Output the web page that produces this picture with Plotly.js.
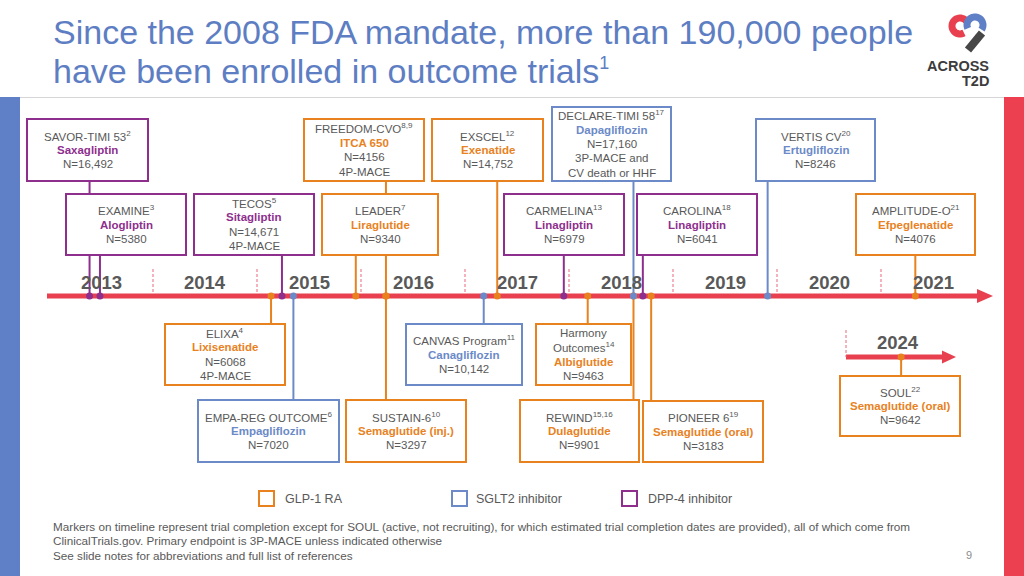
<!DOCTYPE html>
<html><head><meta charset="utf-8">
<script src="https://cdn.plot.ly/plotly-3.0.1.min.js"></script>
<style>html,body{margin:0;padding:0;background:#fff}#chart{width:1024px;height:576px}</style>
</head><body><div id="chart"></div>
<script>
// ================= DATA =================
const trialNames = ['SAVOR-TIMI 53','EXAMINE','ELIXA','TECOS','EMPA-REG OUTCOME','LEADER','FREEDOM-CVO','SUSTAIN-6','CANVAS Program','EXSCEL','CARMELINA','Harmony Outcomes','REWIND','DECLARE-TIMI 58','CAROLINA','PIONEER 6','VERTIS CV','AMPLITUDE-O','SOUL'];
const trialRefs = ['2','3','4','5','6','7','8,9','10','11','12','13','14','15,16','17','18','19','20','21','22'];
const trialDrugs = ['Saxagliptin','Alogliptin','Lixisenatide','Sitagliptin','Empagliflozin','Liraglutide','ITCA 650','Semaglutide (inj.)','Canagliflozin','Exenatide','Linagliptin','Albiglutide','Dulaglutide','Dapagliflozin','Linagliptin','Semaglutide (oral)','Ertugliflozin','Efpeglenatide','Semaglutide (oral)'];
const trialClasses = ['DPP-4','DPP-4','GLP-1','DPP-4','SGLT2','GLP-1','GLP-1','GLP-1','SGLT2','GLP-1','DPP-4','GLP-1','GLP-1','SGLT2','DPP-4','GLP-1','SGLT2','GLP-1','GLP-1'];
const trialN = [16492,5380,6068,14671,7020,9340,4156,3297,10142,14752,6979,9463,9901,17160,6041,3183,8246,4076,9642];
const trialEndpoints = ['','','4P-MACE','4P-MACE','','','4P-MACE','','','','','','','3P-MACE and CV death or HHF','','','','',''];
const completionYear = [2013.39,2013.49,2015.135,2015.24,2015.35,2015.95,2016.24,2016.24,2017.18,2017.31,2017.95,2018.18,2018.62,2018.62,2018.71,2018.79,2019.91,2021.33,2024.53];
const yearLabels = [2013,2014,2015,2016,2017,2018,2019,2020,2021];
const insetYears = [2024];
const classKeys = ['GLP-1','SGLT2','DPP-4'];
const classLabels = ['GLP-1 RA','SGLT2 inhibitor','DPP-4 inhibitor'];

// ================= STYLE / LAYOUT =================
const FONT = 'Liberation Sans, Arial, Helvetica, sans-serif';
const GREY = '#595959';
const classColor = {'GLP-1':'#E8821E','SGLT2':'#6C8AC8','DPP-4':'#8E2F8E'};
const RED = '#E8404F';
const AXIS_Y = 296, INSET_Y = 357;
const LINE_H = 14.4;
// box geometry in page pixels [x0, x1, y0, y1]
const boxGeom = [
  [27,148,119,181],[66,186,194,255],[165,285,324,385],[194,314,194,255],[198,339,400,462],
  [322,438,194,255],[304,424,119,181],[346,466,400,462],[406,522,324,385],[432,543,119,181],
  [504,624,194,255],[536,631,324,385],[520,639,400,462],[552,671,107,181],[637,757,194,255],
  [643,763,401,462],[756,875,119,181],[856,975,194,255],[840,960,376,436]
];
const nameBreak = {'Harmony Outcomes':'Harmony<br>Outcomes'};
const endBreak = {'3P-MACE and CV death or HHF':'3P-MACE and<br>CV death or HHF'};
const insetIdx = [18];

function fmtN(n){ return 'N=' + (n >= 10000 ? n.toLocaleString('en-US') : String(n)); }

const shapes = [];
const annotations = [];
function txt(x,y,text,size,color,anchor,ref){
  annotations.push({xref:ref||'x2',yref:'y',x:x,y:y,text:text,showarrow:false,xanchor:anchor||'center',yanchor:'middle',align:'center',
    font:{family:FONT,size:size,color:color}});
}

// page frame
shapes.push({type:'rect',xref:'x2',yref:'y',x0:0,x1:20,y0:97,y1:576,fillcolor:'#5F7FC6',line:{width:0},layer:'below'});
shapes.push({type:'rect',xref:'x2',yref:'y',x0:1004,x1:1024,y0:97,y1:576,fillcolor:'#EC4050',line:{width:0},layer:'below'});
shapes.push({type:'line',xref:'x2',yref:'y',x0:20,x1:1004,y0:97.5,y1:97.5,line:{color:'#D6D6D6',width:1},layer:'below'});

// main timeline axis with arrow
shapes.push({type:'line',xref:'x2',yref:'y',x0:47,x1:980,y0:AXIS_Y,y1:AXIS_Y,line:{color:RED,width:5},layer:'below'});
shapes.push({type:'path',xref:'x2',yref:'y',path:`M 977 ${AXIS_Y-7} L 993 ${AXIS_Y} L 977 ${AXIS_Y+7} Z`,fillcolor:RED,line:{width:0},layer:'below'});
// inset axis
shapes.push({type:'line',xref:'x2',yref:'y',x0:846,x1:944,y0:INSET_Y,y1:INSET_Y,line:{color:RED,width:5},layer:'below'});
shapes.push({type:'path',xref:'x2',yref:'y',path:`M 942 ${INSET_Y-6.5} L 956 ${INSET_Y} L 942 ${INSET_Y+6.5} Z`,fillcolor:RED,line:{width:0},layer:'below'});

// year dividers
yearLabels.slice(1).forEach(y=>{
  shapes.push({type:'line',xref:'x',yref:'y',x0:y,x1:y,y0:269,y1:292,line:{color:'#E8687A',width:1,dash:'3px,2px'},layer:'below'});
});
insetYears.forEach(y=>{
  shapes.push({type:'line',xref:'x3',yref:'y',x0:y,x1:y,y0:330,y1:INSET_Y,line:{color:'#E8687A',width:1,dash:'3px,2px'},layer:'below'});
});
// year labels
yearLabels.forEach(y=>txt(y+0.5,282,'<b>'+y+'</b>',18.5,GREY,'center','x'));
insetYears.forEach(y=>txt(y+0.5,342,'<b>'+y+'</b>',18.5,GREY,'center','x3'));

// connectors first
trialNames.forEach((nm,i)=>{
  const g = boxGeom[i];
  const inset = insetIdx.includes(i);
  const ay = inset ? INSET_Y : AXIS_Y;
  const target = (g[3] < ay) ? g[3] : g[2];
  shapes.push({type:'line',xref:inset?'x3':'x',yref:'y',x0:completionYear[i],x1:completionYear[i],y0:ay,y1:target,
    line:{color:classColor[trialClasses[i]],width:2},layer:'below'});
});
// boxes + text
trialNames.forEach((nm,i)=>{
  const g = boxGeom[i];
  const col = classColor[trialClasses[i]];
  shapes.push({type:'rect',xref:'x2',yref:'y',x0:g[0],x1:g[1],y0:g[2],y1:g[3],fillcolor:'#FFFFFF',line:{color:col,width:2},layer:'below'});
  const nameLines = (nameBreak[nm]||nm).split('<br>');
  nameLines[nameLines.length-1] += '<sup>' + trialRefs[i] + '</sup>';
  let lines = nameLines.map(t=>[t,GREY]);
  lines.push(['<b>' + trialDrugs[i] + '</b>', col]);
  lines.push([fmtN(trialN[i]), GREY]);
  if (trialEndpoints[i]) (endBreak[trialEndpoints[i]] || trialEndpoints[i]).split('<br>').forEach(t=>lines.push([t,GREY]));
  const cx = (g[0]+g[1])/2, cy = (g[2]+g[3])/2;
  const n = lines.length;
  lines.forEach((l,k)=>txt(cx, cy + (k-(n-1)/2)*LINE_H, l[0], 11.5, l[1]));
});

// legend
const legendPos = [[259,283],[452,474],[622,646]];
classKeys.forEach((k,i)=>{
  const p = legendPos[i];
  shapes.push({type:'rect',xref:'x2',yref:'y',x0:p[0],x1:p[0]+15,y0:491,y1:506,fillcolor:'#FFFFFF',line:{color:classColor[k],width:2},layer:'below'});
  txt(p[1],498.5,classLabels[i],12.5,GREY,'left');
});

// title
txt(51,32,'Since the 2008 FDA mandate, more than 190,000 people',34,'#5E7EC3','left');
txt(51,71,'have been enrolled in outcome trials<sup><span style="font-size:18px">1</span></sup>',34,'#5E7EC3','left');

// footnotes
const notes = ['Markers on timeline represent trial completion except for SOUL (active, not recruiting), for which estimated trial completion dates are provided), all of which come from',
  'ClinicalTrials.gov. Primary endpoint is 3P-MACE unless indicated otherwise',
  'See slide notes for abbreviations and full list of references'];
const noteY = [526,540.5,555];
notes.forEach((t,i)=>txt(51,noteY[i],t,11.7,GREY,'left'));
txt(969,555,'9',11,'#8C8C8C');

// logo
function arcPath(cx,cy,r,a0,a1,n){
  let s='';
  for(let k=0;k<=n;k++){
    const a=(a0+(a1-a0)*k/n)*Math.PI/180;
    s += (k?' L ':'M ') + (cx+r*Math.cos(a)).toFixed(2)+' '+(cy-r*Math.sin(a)).toFixed(2);
  }
  return s;
}
shapes.push({type:'path',xref:'x2',yref:'y',path:arcPath(960,26,8,40,300,30),line:{color:'#E8404F',width:7},layer:'above'});
shapes.push({type:'path',xref:'x2',yref:'y',path:arcPath(975,25,8,205,-35,30),line:{color:'#5F7FC6',width:7},layer:'above'});
shapes.push({type:'line',xref:'x2',yref:'y',x0:982,y0:33,x1:968,y1:50,line:{color:'#474747',width:8},layer:'above'});
txt(991,65.5,'<b>ACROSS</b>',14.5,'#3C3C3C','right');
txt(991,80.5,'<b>T2D</b>',14.5,'#3C3C3C','right');

// ================= TRACES =================
const mainIdx = trialNames.map((_,i)=>i).filter(i=>!insetIdx.includes(i));
const traces = [
  {type:'scatter',mode:'markers',xaxis:'x',yaxis:'y',x:mainIdx.map(i=>completionYear[i]),y:mainIdx.map(()=>AXIS_Y),
   marker:{size:7,color:mainIdx.map(i=>classColor[trialClasses[i]])},hoverinfo:'skip',showlegend:false},
  {type:'scatter',mode:'markers',xaxis:'x3',yaxis:'y',x:insetIdx.map(i=>completionYear[i]),y:insetIdx.map(()=>INSET_Y),
   marker:{size:7,color:insetIdx.map(i=>classColor[trialClasses[i]])},hoverinfo:'skip',showlegend:false},
  {type:'scatter',mode:'markers',xaxis:'x2',yaxis:'y',x:[],y:[],showlegend:false,hoverinfo:'skip'}
];

const layout = {
  width:1024,height:576,margin:{l:0,r:0,t:0,b:0},
  paper_bgcolor:'#FFFFFF',plot_bgcolor:'#FFFFFF',showlegend:false,hovermode:false,
  xaxis:{range:[2013-49/104,2013+975/104],domain:[0,1],visible:false,fixedrange:true},
  xaxis2:{range:[0,1024],overlaying:'x',anchor:'y',visible:false,fixedrange:true},
  xaxis3:{range:[2024-846/104,2024+178/104],overlaying:'x',anchor:'y',visible:false,fixedrange:true},
  yaxis:{range:[576,0],domain:[0,1],visible:false,fixedrange:true},
  shapes:shapes,annotations:annotations
};
Plotly.newPlot('chart',traces,layout,{displayModeBar:false,staticPlot:true});
</script>
</body></html>
